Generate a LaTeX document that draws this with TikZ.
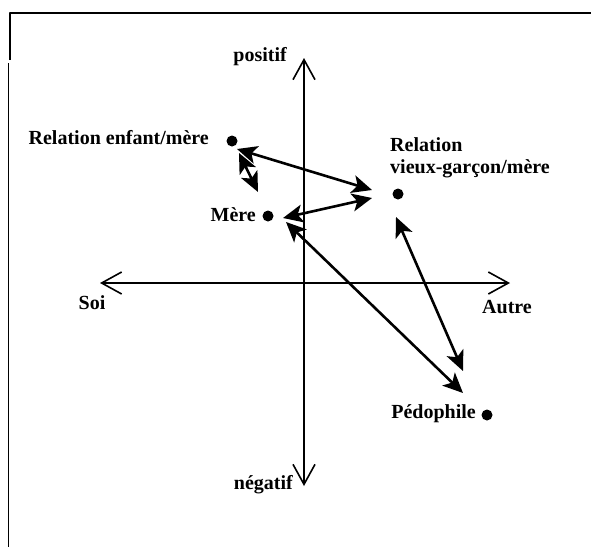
\documentclass[tikz,border=0pt]{standalone}
\usepackage{fontspec}
\setmainfont{Liberation Serif}
\usetikzlibrary{arrows.meta}
\begin{document}
			\begin{tikzpicture}[x=1pt, y=-1pt, line join=round,
				font=\fontsize{20}{22}\selectfont\bfseries,
				axe/.style={line width=1.6pt, -{Straight Barb[length=20pt, width=22pt]}},
				lien/.style={line width=2.6pt, {Stealth[length=20pt, width=18pt, inset=5pt]}-{Stealth[length=20pt, width=18pt, inset=5pt]}},
				lab/.style={inner sep=0pt}]
				\useasboundingbox (0,0) rectangle (591,547);
				\draw[line width=2.5pt] (10,60) -- (10,13) -- (591,13);
				\draw[line width=1.5pt] (8.5,63) -- (8.5,547);
				\coordinate (O) at (304,283);
				\coordinate (Yh) at (304,58);
				\coordinate (Yb) at (304,486);
				\coordinate (Xg) at (100,283);
				\coordinate (Xd) at (510,283);
				\coordinate (E) at (232,141);
				\coordinate (V) at (398,194);
				\coordinate (M) at (268,216);
				\coordinate (P) at (487,415);
				\coordinate (E1) at (237,149);
				\coordinate (V1) at (372,190);
				\coordinate (E2) at (239,153);
				\coordinate (M2) at (258,192);
				\coordinate (M3) at (283,218);
				\coordinate (V3) at (372,198);
				\coordinate (M4) at (286,222);
				\coordinate (P4) at (463,393);
				\coordinate (V5) at (396,217);
				\coordinate (P5) at (463,371);
				\draw[axe] (O) -- (Yh);
				\draw[axe] (O) -- (Yb);
				\draw[axe] (O) -- (Xg);
				\draw[axe] (O) -- (Xd);
				\draw[lien] (E1) -- (V1);
				\draw[lien] (E2) -- (M2);
				\draw[lien] (M3) -- (V3);
				\draw[lien] (M4) -- (P4);
				\draw[lien] (V5) -- (P5);
				\foreach \p in {E, V, M, P}
				\fill (\p) circle (5.5pt);
				\node[lab, anchor=east] (tE) at (209,138) {Relation enfant/mère};
				\node[lab, anchor=west, align=left] (tV) at (390,158) {Relation\\vieux-garçon/mère};
				\node[lab, anchor=east] (tM) at (256,215) {Mère};
				\node[lab, anchor=east] (tP) at (476,414) {Pédophile};
				\node[lab, anchor=east] (tYh) at (287,57) {positif};
				\node[lab, anchor=east] (tYb) at (293,485) {négatif};
				\node[lab] (tXg) at (92,303) {Soi};
				\node[lab] (tXd) at (507,307) {Autre};
			\end{tikzpicture}
\end{document}
